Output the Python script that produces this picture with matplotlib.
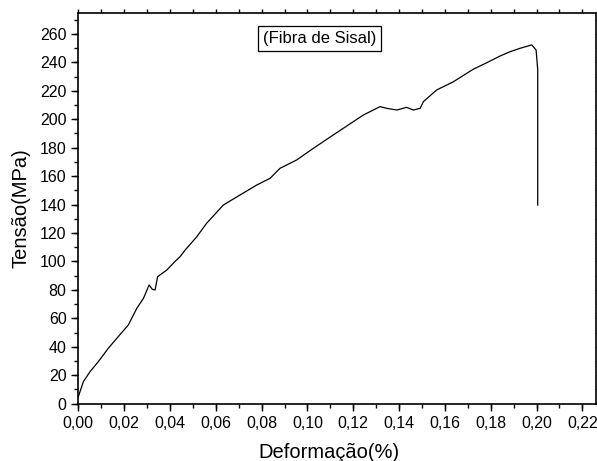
import matplotlib
matplotlib.use("Agg")
import matplotlib.pyplot as plt
from matplotlib.ticker import MultipleLocator, FuncFormatter

plt.rcParams['font.family'] = ['Liberation Sans', 'DejaVu Sans']

# strain (%) and stress (MPa)
deform = [0.0, 0.0022, 0.0051, 0.0087, 0.0131, 0.0168, 0.0218, 0.0255, 0.0284,
          0.0309, 0.0323, 0.0335, 0.0346, 0.0386, 0.0422, 0.0444, 0.0466, 0.0517,
          0.056, 0.0633, 0.0706, 0.0779, 0.0837, 0.088, 0.0953, 0.1026, 0.1113,
          0.1157, 0.1244, 0.1317, 0.1346, 0.139, 0.1433, 0.1462, 0.1492, 0.1506,
          0.1564, 0.1637, 0.1695, 0.1724, 0.1783, 0.1841, 0.1884, 0.1928, 0.1979,
          0.1998, 0.2005, 0.2005]
tensao = [4.9, 15.5, 22.5, 29.5, 39.0, 46.0, 55.3, 67.0, 74.0,
          83.5, 80.4, 80.0, 89.3, 94.0, 100.0, 103.4, 108.0, 117.4,
          126.9, 139.7, 146.8, 153.8, 158.5, 165.5, 171.4, 179.6, 189.0,
          193.7, 203.0, 208.9, 207.7, 206.5, 208.4, 206.5, 207.7, 212.4,
          220.6, 226.4, 232.3, 235.2, 239.8, 244.5, 247.5, 249.9, 252.3,
          248.7, 234.7, 139.7]

fig = plt.figure(figsize=(5.97, 4.61), dpi=100)
ax = fig.add_axes([0.1312, 0.1243, 0.8666, 0.8468])

ax.plot(deform, tensao, color='black', lw=0.9)

ax.set_xlim(0, 0.2258)
ax.set_ylim(0, 274.5)

ax.xaxis.set_major_locator(MultipleLocator(0.02))
ax.xaxis.set_minor_locator(MultipleLocator(0.01))
ax.yaxis.set_major_locator(MultipleLocator(20))
ax.yaxis.set_minor_locator(MultipleLocator(10))
ax.xaxis.remove_overlapping_locs = False
ax.yaxis.remove_overlapping_locs = False
ax.xaxis.set_major_formatter(FuncFormatter(lambda v, p: f"{v:.2f}".replace('.', ',')))
ax.yaxis.set_major_formatter(FuncFormatter(lambda v, p: f"{v:.0f}"))

# labelled major ticks only bottom/left, short ticks at every step on all sides
ax.tick_params(which='both', direction='out', width=1)
ax.tick_params(which='major', length=5, labelsize=11.5, top=False, right=False)
ax.tick_params(which='minor', length=3, top=True, right=True)

for s in ax.spines.values():
    s.set_linewidth(1.2)

ax.set_xlabel("Deformação(%)", fontsize=14.5, labelpad=9)
ax.xaxis.label.set_x(0.484)
ax.set_ylabel("Tensão(MPa)", fontsize=14.5, labelpad=7)

ax.text(0.1053, 256.8, "(Fibra de Sisal)", fontsize=12, ha='center', va='center',
        bbox=dict(boxstyle='square,pad=0.3', fc='white', ec='black', lw=0.9))

fig.savefig("out.png", dpi=100)
